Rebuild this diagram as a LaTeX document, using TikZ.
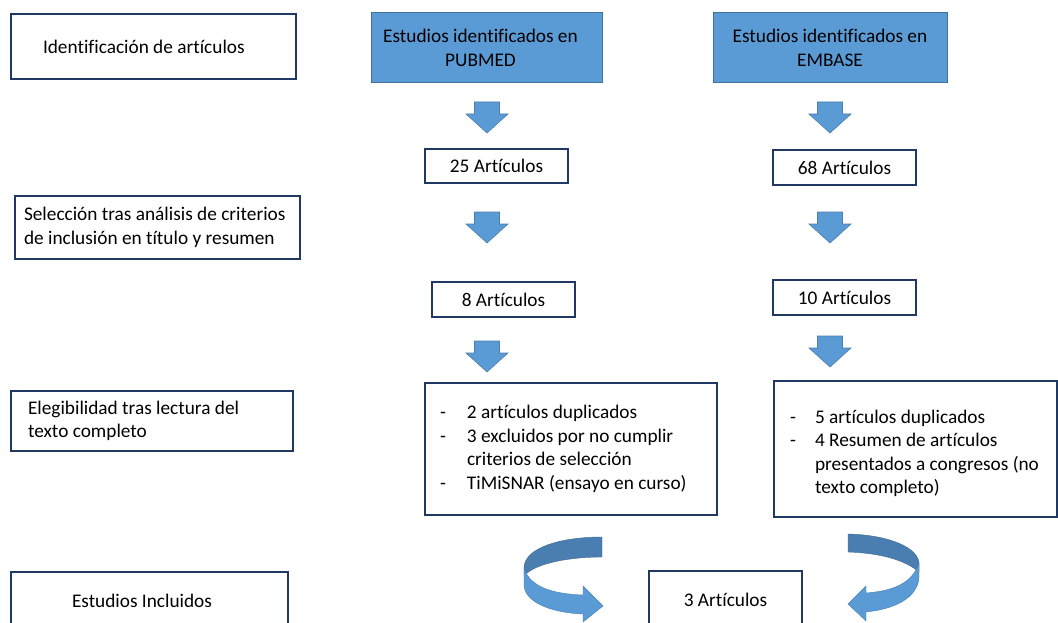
\documentclass[tikz,border=0pt]{standalone}
\usepackage{fontspec}
\setmainfont{Carlito}[Ligatures=NoCommon]
\definecolor{navy}{HTML}{1F3864}
\definecolor{bfill}{HTML}{5B9BD5}
\definecolor{bedge}{HTML}{41719C}
\definecolor{darkb}{HTML}{4A7EB1}
\begin{document}
\begin{tikzpicture}[x=1pt,y=-1pt,
  every node/.style={font=\fontsize{19.3}{23.6}\selectfont, inner sep=0pt, outer sep=0pt},
  box/.style={draw=navy, line width=1.5pt, rectangle, fill=white},
  bluebox/.style={draw=bedge, fill=bfill, line width=1pt, rectangle, align=center},
  arrfill/.style={fill=bfill, draw=bedge!70!bfill, line width=0.6pt},
  darr/.pic={\path[arrfill] (-12.5,0) -- (-12.5,12) -- (-21,12) -- (0,31) -- (21,12) -- (12.5,12) -- (12.5,0) -- cycle;}
]
\useasboundingbox (0,0) rectangle (1058,623);

% left column
\node[box, minimum width=285, minimum height=65, text width=221, align=flush left] (ident) at (153.5,46.5) {Identificación de artículos};
\node[box, minimum width=285, minimum height=63, text width=267, align=flush left] (selec) at (157.5,227.5) {Selección tras análisis de criterios\\de inclusión en título y resumen};
\node[box, minimum width=282, minimum height=60, text width=248, align=flush left] (eleg) at (152,421) {Elegibilidad tras lectura del\\texto completo};
\node[box, minimum width=277, minimum height=58, text width=155, align=flush left] (incl) at (149.5,601) {Estudios Incluidos};

% blue source boxes
\node[bluebox, minimum width=231, minimum height=70] (pubmed) at (486.5,48) {\hspace*{-12pt}Estudios identificados en\\\hspace*{-12pt}PUBMED};
\node[bluebox, minimum width=234, minimum height=70] (embase) at (830,48) {Estudios identificados en\\EMBASE};

% count boxes
\node[box, minimum width=143, minimum height=34] (p25) at (496.5,166) {25 Artículos};
\node[box, minimum width=143, minimum height=35] (e68) at (844.5,167.5) {68 Artículos};
\node[box, minimum width=143, minimum height=35] (p8) at (503.5,299.5) {8 Artículos};
\node[box, minimum width=143, minimum height=35] (e10) at (844.5,297.5) {10 Artículos};

% exclusion boxes
\node[box, minimum width=292, minimum height=132, text width=262, align=flush left] (pex) at (571,449) {%
\makebox[27pt][l]{-}2 artículos duplicados\\
\makebox[27pt][l]{-}3 excluidos por no cumplir\\
\hspace*{27pt}criterios de selección\\
\makebox[27pt][l]{-}TiMiSNAR (ensayo en curso)};
\node[box, minimum width=283, minimum height=136, text width=251, align=flush left] (eex) at (915.5,449) {%
\rule{0pt}{22pt}\makebox[25pt][l]{-}5 artículos duplicados\\
\makebox[25pt][l]{-}4 Resumen de artículos\\
\hspace*{25pt}presentados a congresos (no\\
\hspace*{25pt}texto completo)};

% result
\node[box, minimum width=153, minimum height=58] (res) at (725.5,600) {3 Artículos};

% block arrows down
\pic at (487,102) {darr};
\pic at (830,102) {darr};
\pic at (487,212) {darr};
\pic at (830,212) {darr};
\pic at (487,341) {darr};
\pic at (830,336) {darr};

% left curved arrow
\path[fill=darkb, draw=darkb!85!black, line width=0.4pt]
  (602,537) .. controls (560,537) and (524,548) .. (524,568)
  -- (524,576) .. controls (535,563) and (570,557) .. (602,557) -- cycle;
\path[fill=bfill, draw=bedge!70!bfill, line width=0.4pt]
  (524,568) -- (524,586) .. controls (526,604) and (555,613) .. (583,614)
  -- (583,622) -- (603,606) -- (583,586) -- (583,595)
  .. controls (555,594) and (530,588) .. (524,568) -- cycle;

% right curved arrow
\path[fill=darkb, draw=darkb!85!black, line width=0.4pt]
  (848,534) .. controls (890,535) and (918,548) .. (919,563)
  -- (919,572) .. controls (905,560) and (880,553) .. (848,552) -- cycle;
\path[fill=bfill, draw=bedge!70!bfill, line width=0.4pt]
  (919,563) -- (919,578) .. controls (917,598) and (895,609) .. (866,612)
  -- (866,621) -- (848,604) -- (866,586) -- (866,593)
  .. controls (892,591) and (912,584) .. (919,563) -- cycle;
\end{tikzpicture}
\end{document}
